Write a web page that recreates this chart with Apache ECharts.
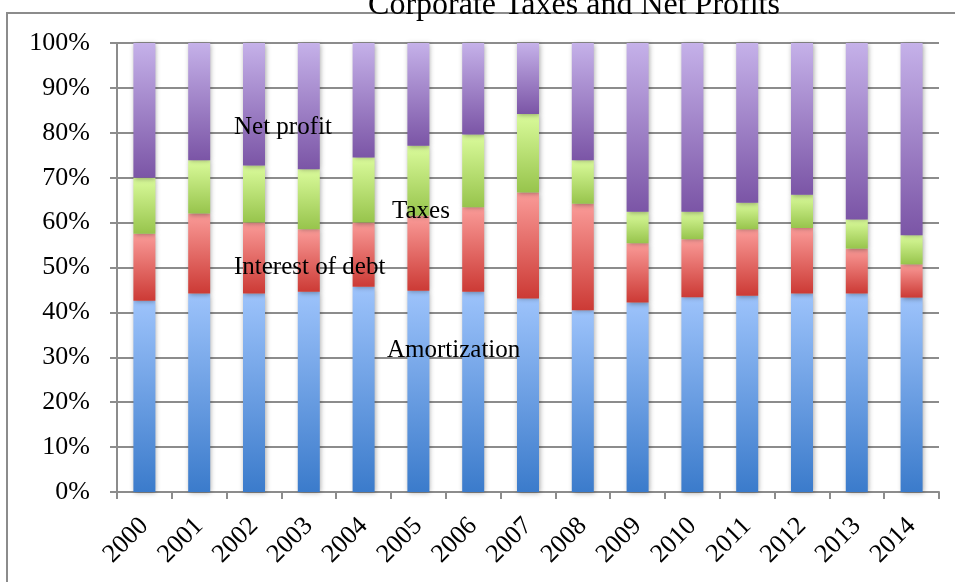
<!DOCTYPE html>
<html>
<head>
<meta charset="utf-8">
<script src="https://cdn.jsdelivr.net/npm/echarts@6/dist/echarts.min.js"></script>
<style>
  html, body { margin: 0; padding: 0; background: #fff; }
  #chart { width: 955px; height: 582px; }
</style>
</head>
<body>
<div id="chart"></div>
<script>
// Share of corporate value added, per year (percent of total)
const years = ['2000','2001','2002','2003','2004','2005','2006','2007','2008','2009','2010','2011','2012','2013','2014'];
const amortization   = [42.6, 44.2, 44.2, 44.6, 45.7, 44.8, 44.6, 43.1, 40.5, 42.2, 43.4, 43.7, 44.2, 44.2, 43.3];
const interestOfDebt = [14.9, 17.8, 15.8, 13.9, 14.3, 16.7, 18.8, 23.6, 23.7, 13.2, 12.9, 14.8, 14.6, 10.0, 7.4];
const taxes          = [12.5, 11.9, 12.7, 13.4, 14.5, 15.6, 16.2, 17.5, 9.7, 7.0, 6.1, 5.9, 7.4, 6.5, 6.5];
const netProfit      = [30.0, 26.1, 27.3, 28.1, 25.5, 22.9, 20.4, 15.8, 26.1, 37.6, 37.6, 35.6, 33.8, 39.3, 42.8];

const FONT = '"Liberation Serif", "DejaVu Serif", serif';
const GRID_GRAY = '#8c8c8c';

function grad(top, bottom) {
  return new echarts.graphic.LinearGradient(0, 0, 0, 1, [
    { offset: 0, color: top },
    { offset: 1, color: bottom }
  ]);
}

function barSeries(name, data, top, bottom) {
  return {
    name: name,
    type: 'bar',
    stack: 'total',
    barWidth: 22,
    data: data,
    itemStyle: {
      color: grad(top, bottom),
      shadowBlur: 5,
      shadowColor: 'rgba(0,0,0,0.35)',
      shadowOffsetX: 1,
      shadowOffsetY: 1
    }
  };
}

const chart = echarts.init(document.getElementById('chart'), null, { renderer: 'canvas' });

chart.setOption({
  animation: false,
  backgroundColor: '#fff',
  title: {
    text: 'Corporate Taxes and Net Profits',
    left: 569,
    textAlign: 'center',
    top: -15,
    textStyle: { fontFamily: FONT, fontSize: 32, fontWeight: 'normal', color: '#000' }
  },
  grid: { left: 117, right: 16, top: 43, bottom: 90, containLabel: false },
  xAxis: {
    type: 'category',
    data: years,
    axisLine: { lineStyle: { color: GRID_GRAY, width: 2 } },
    axisTick: { show: true, alignWithLabel: false, length: 7, lineStyle: { color: GRID_GRAY, width: 2 } },
    axisLabel: { rotate: 45, margin: 30, fontFamily: FONT, fontSize: 26, color: '#000', interval: 0 }
  },
  yAxis: {
    type: 'value',
    min: 0,
    max: 100,
    interval: 10,
    axisLine: { show: true, lineStyle: { color: GRID_GRAY, width: 2 } },
    axisTick: { show: true, length: 7, lineStyle: { color: GRID_GRAY, width: 2 } },
    axisLabel: { formatter: '{value}%', margin: 27, fontFamily: FONT, fontSize: 26, color: '#000' },
    splitLine: { show: true, lineStyle: { color: GRID_GRAY, width: 2 } }
  },
  series: [
    barSeries('Amortization', amortization, '#9dc3fb', '#3b7bcb'),
    barSeries('Interest of debt', interestOfDebt, '#fa9b98', '#cc3a35'),
    barSeries('Taxes', taxes, '#dafb9b', '#97c44c'),
    barSeries('Net profit', netProfit, '#c5b1e9', '#7b55a6')
  ],
  graphic: [
    {
      type: 'rect', z: -10, silent: true,
      shape: { x: 7, y: 13, width: 1000, height: 700 },
      style: { fill: 'none', stroke: GRID_GRAY, lineWidth: 2 }
    },
    { type: 'text', z: 100, left: 234, top: 115, style: { text: 'Net profit', font: '25px ' + FONT, fill: '#000' } },
    { type: 'text', z: 100, left: 392, top: 199, style: { text: 'Taxes', font: '25px ' + FONT, fill: '#000' } },
    { type: 'text', z: 100, left: 234, top: 255, style: { text: 'Interest of debt', font: '25px ' + FONT, fill: '#000' } },
    { type: 'text', z: 100, left: 387, top: 338, style: { text: 'Amortization', font: '25px ' + FONT, fill: '#000' } }
  ]
});
</script>
</body>
</html>
